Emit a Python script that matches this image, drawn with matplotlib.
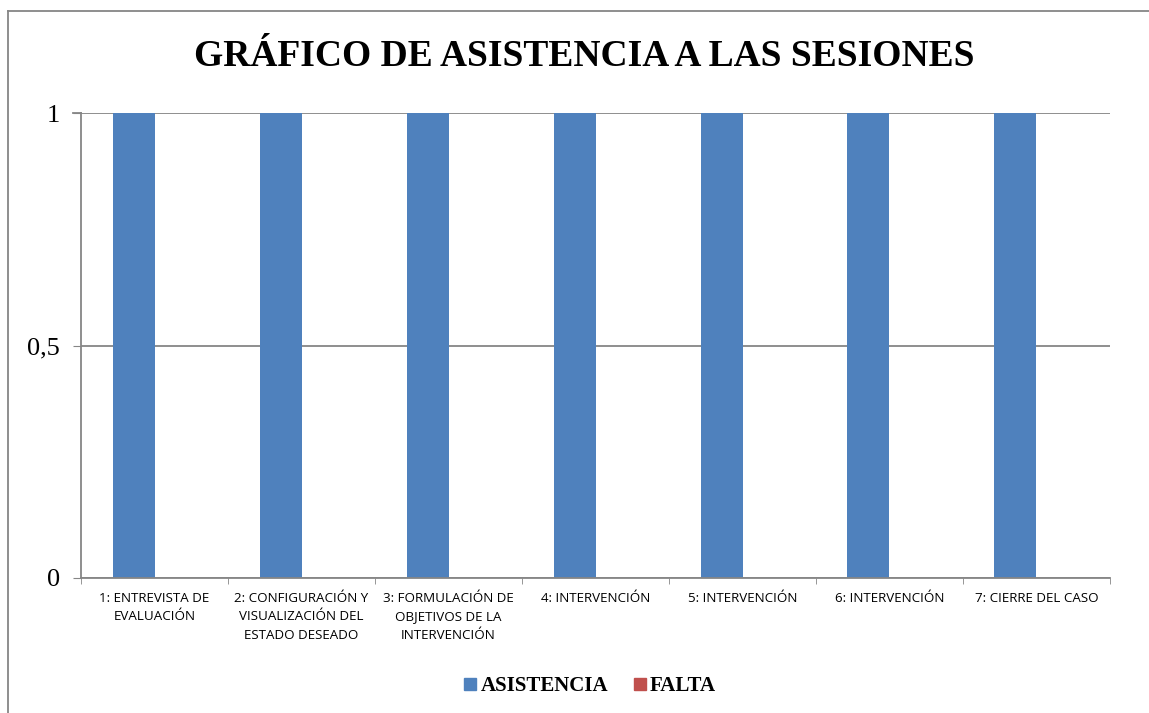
import numpy as np
import matplotlib.pyplot as plt
from matplotlib.lines import Line2D

sesiones = ['1: ENTREVISTA DE\nEVALUACIÓN',
            '2: CONFIGURACIÓN Y\nVISUALIZACIÓN DEL\nESTADO DESEADO',
            '3: FORMULACIÓN DE\nOBJETIVOS DE LA\nINTERVENCIÓN',
            '4: INTERVENCIÓN',
            '5: INTERVENCIÓN',
            '6: INTERVENCIÓN',
            '7: CIERRE DEL CASO']
asistencia = [1, 1, 1, 1, 1, 1, 1]
falta = [0, 0, 0, 0, 0, 0, 0]
yticks = [0, 0.5, 1]
ylabels = ['0', '0,5', '1']

azul = '#4F81BD'
rojo = '#C0504D'
gris = '#868686'

fig = plt.figure(figsize=(11.49, 7.13), dpi=100)
ax = fig.add_axes([81/1149, 1-578/713, (1110-81)/1149, (578-113)/713])

x = np.arange(len(sesiones))
w = 1/3.5
ax.bar(x - w/2, asistencia, w, color=azul, label='ASISTENCIA')
ax.bar(x + w/2, falta, w, color=rojo, label='FALTA')

ax.set_xlim(-0.5, len(sesiones) - 0.5)
ax.set_ylim(0, 1)
ax.set_yticks(yticks)
ax.set_yticklabels(ylabels, fontfamily='Liberation Serif', fontsize=19)
ax.set_xticks(x)
ax.set_xticklabels(sesiones, fontfamily='Open Sans', fontsize=9.6, linespacing=1.55)
ax.set_xticks(np.arange(len(sesiones) + 1) - 0.5, minor=True)
ax.tick_params(axis='x', which='major', length=0, pad=10)
ax.tick_params(axis='x', which='minor', length=4, color=gris, direction='out')
ax.tick_params(axis='y', length=6, color=gris, direction='out', pad=9)
ax.grid(axis='y', color=gris, linewidth=1.3)
ax.set_axisbelow(True)
for s in ['top', 'right']:
    ax.spines[s].set_visible(False)
for s in ['left', 'bottom']:
    ax.spines[s].set_color(gris)
    ax.spines[s].set_linewidth(1.3)
# gridline at 1 extends over the tick
ax.plot([-0.5 - 8/147, -0.5], [1, 1], color=gris, lw=1.3, clip_on=False)

fig.text(584/1149, 1-56/713, 'GRÁFICO DE ASISTENCIA A LAS SESIONES',
         ha='center', va='center', fontfamily='Liberation Serif',
         fontweight='bold', fontsize=27)

handles = [Line2D([], [], marker='s', ls='', color=azul, markersize=9),
           Line2D([], [], marker='s', ls='', color=rojo, markersize=9)]
fig.legend(handles, ['ASISTENCIA', 'FALTA'], loc='center',
           bbox_to_anchor=(588/1149, 1-686/713), ncol=2, frameon=False,
           prop={'family': 'Liberation Serif', 'weight': 'bold', 'size': 15},
           handletextpad=0.0, columnspacing=1.0, handlelength=1.0)

# outer chart border (left and top visible)
fig.add_artist(Line2D([8/1149, 8/1149], [0, 1-11/713], color=gris, lw=1.3))
fig.add_artist(Line2D([8/1149, 1], [1-11/713, 1-11/713], color=gris, lw=1.3))

fig.savefig('out.png', dpi=100)
